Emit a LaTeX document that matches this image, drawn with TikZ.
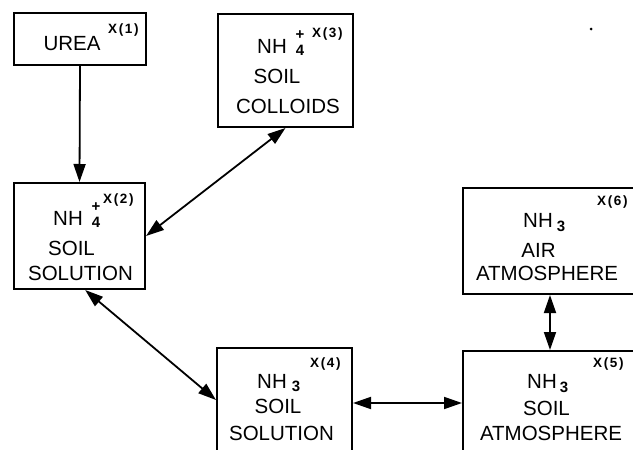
\documentclass[tikz,border=0pt]{standalone}
\usepackage{fontspec}
\setmainfont{Liberation Sans}
\newfontfamily\tagfont[LetterSpace=12]{Liberation Sans}
\usetikzlibrary{arrows.meta}
\tikzset{
  box/.style={draw, line width=2pt, inner sep=0pt, rectangle},
  txt/.style={inner sep=0pt, font=\fontsize{20.5}{24}\selectfont, anchor=base},
  nh/.style={inner sep=0pt, font=\fontsize{20.5}{24}\selectfont, anchor=base west},
  tag/.style={inner sep=0pt, font=\tagfont\bfseries\fontsize{13.5}{15}\selectfont, anchor=base west},
  idx/.style={inner sep=0pt, font=\bfseries\fontsize{15}{16}\selectfont},
  link/.style={line width=1.8pt, -{Triangle[length=18pt,width=12pt]}},
  dlink/.style={line width=1.8pt, {Triangle[length=18pt,width=12pt]}-{Triangle[length=18pt,width=12pt]}}
}
\begin{document}
\begin{tikzpicture}[x=1pt,y=-1pt]
\useasboundingbox (0,0) rectangle (633,450);
\clip (0,0) rectangle (633,450);
\fill[white] (0,0) rectangle (633,450);
% boxes
\node[box, minimum width=132pt, minimum height=52pt] (b1) at (80,39) {};
\node[box, minimum width=135pt, minimum height=113pt] (b3) at (285.5,70.5) {};
\node[box, minimum width=131pt, minimum height=106pt] (b2) at (79.5,236) {};
\node[box, minimum width=135pt, minimum height=104pt] (b4) at (284.5,400) {};
\node[box, minimum width=182pt, minimum height=104pt] (b5) at (554,403) {};
\node[box, minimum width=182pt, minimum height=106pt] (b6) at (554,241) {};
% box 1
\node[txt] (t1) at (72,50) {UREA};
\node[tag] (x1) at (108,33) {X(1)};
% box 3
\node[nh] (nh3) at (257,53) {NH};
\node[idx] (p3) at (300,35) {+};
\node[idx, anchor=base] (s3) at (300,55) {4};
\node[tag] (x3) at (312,37) {X(3)};
\node[txt] (t3a) at (277,83) {SOIL};
\node[txt] (t3b) at (288,113) {COLLOIDS};
% box 2
\node[nh] (nh2) at (53,225) {NH};
\node[idx] (p2) at (96,207) {+};
\node[idx, anchor=base] (s2) at (96,227) {4};
\node[tag] (x2) at (103,203) {X(2)};
\node[txt] (t2a) at (71.5,255) {SOIL};
\node[txt] (t2b) at (80.5,280) {SOLUTION};
% box 4
\node[nh] (nh4) at (257,388) {NH};
\node[idx, anchor=base] (s4) at (296,391) {3};
\node[tag] (x4) at (310,367) {X(4)};
\node[txt] (t4a) at (278,413) {SOIL};
\node[txt] (t4b) at (281.5,440) {SOLUTION};
% box 5
\node[nh] (nh5) at (527,388) {NH};
\node[idx, anchor=base] (s5) at (564,392) {3};
\node[tag] (x5) at (593,367) {X(5)};
\node[txt] (t5a) at (546.5,415) {SOIL};
\node[txt] (t5b) at (551,440) {ATMOSPHERE};
% box 6
\node[nh] (nh6) at (523,227) {NH};
\node[idx, anchor=base] (s6) at (561,231) {3};
\node[tag] (x6) at (597,205) {X(6)};
\node[txt] (t6a) at (538.5,257) {AIR};
\node[txt] (t6b) at (547,280) {ATMOSPHERE};
% dot
\fill (591,29) circle (1.5pt);
% connectors
\draw[link] (b1.south) -- (b2.north);
\draw[dlink] (b3.south) -- (b2.east);
\draw[dlink] (b2.-84) -- (b4.west);
\draw[dlink] (b4.east |- b5.west) -- (b5.west);
\draw[dlink] ([xshift=-4pt]b6.south) -- ([xshift=-4pt]b5.north);
\end{tikzpicture}
\end{document}
